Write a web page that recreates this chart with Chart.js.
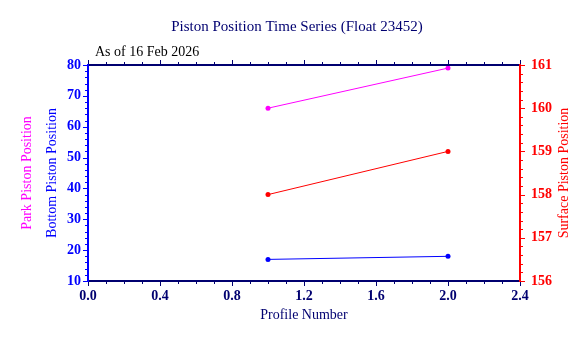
<!DOCTYPE html>
<html>
<head>
<meta charset="utf-8">
<script src="https://cdn.jsdelivr.net/npm/chart.js@4"></script>
<style>
  html, body { margin: 0; padding: 0; background: #fff; }
  #wrap { width: 588px; height: 338px; }
</style>
</head>
<body>
<div id="wrap"><canvas id="myChart" width="588" height="338"></canvas></div>
<script>
const profiles = [1, 2];
const parkPosition = [66, 79];
const bottomPosition = [17, 18];
const surfacePosition = [158, 159];

const NAVY = '#000070';
const FONT = '"Liberation Serif", "Times New Roman", serif';

const toPoints = (ys) => profiles.map((x, i) => ({ x: x, y: ys[i] }));

// frame, major + minor ticks, and free text
const framePlugin = {
    id: 'frame',
    afterDraw(chart) {
        const ctx = chart.ctx;
        const a = chart.chartArea;
        const sx = chart.scales.x, sy = chart.scales.y, sy2 = chart.scales.y2;
        ctx.save();
        ctx.lineWidth = 1;

        // x ticks, bottom and top
        ctx.strokeStyle = NAVY;
        for (let i = 0; i <= 24; i++) {
            const px = Math.round(sx.getPixelForValue(i / 10)) + 0.5;
            const len = i % 4 === 0 ? 4 : 2;
            ctx.beginPath();
            ctx.moveTo(px, a.bottom); ctx.lineTo(px, a.bottom + len + 1);
            ctx.moveTo(px, a.top); ctx.lineTo(px, a.top - len - 1);
            ctx.stroke();
        }
        // left ticks
        ctx.strokeStyle = '#0000ff';
        for (let v = 10; v <= 80; v += 2) {
            const py = Math.round(sy.getPixelForValue(v)) + 0.5;
            const len = v % 10 === 0 ? 4 : 2;
            ctx.beginPath();
            ctx.moveTo(a.left, py); ctx.lineTo(a.left - len - 1, py);
            ctx.stroke();
        }
        // right ticks
        ctx.strokeStyle = '#ff0000';
        for (let i = 0; i <= 25; i++) {
            const py = Math.round(sy2.getPixelForValue(156 + i / 5)) + 0.5;
            const len = i % 5 === 0 ? 4 : 2;
            ctx.beginPath();
            ctx.moveTo(a.right, py); ctx.lineTo(a.right + len + 1, py);
            ctx.stroke();
        }

        // frame lines
        ctx.lineWidth = 2;
        ctx.strokeStyle = NAVY;
        ctx.beginPath();
        ctx.moveTo(a.left, a.top); ctx.lineTo(a.right, a.top);
        ctx.moveTo(a.left, a.bottom); ctx.lineTo(a.right, a.bottom);
        ctx.stroke();
        ctx.strokeStyle = '#0000ff';
        ctx.beginPath(); ctx.moveTo(a.left, a.top - 1); ctx.lineTo(a.left, a.bottom + 1); ctx.stroke();
        ctx.strokeStyle = '#ff0000';
        ctx.beginPath(); ctx.moveTo(a.right, a.top - 1); ctx.lineTo(a.right, a.bottom + 1); ctx.stroke();

        // texts
        const midY = (a.top + a.bottom) / 2;
        ctx.textAlign = 'center';
        ctx.textBaseline = 'middle';
        ctx.fillStyle = NAVY;
        ctx.font = '15px ' + FONT;
        ctx.fillText('Piston Position Time Series (Float 23452)', 297, 27);
        ctx.font = '14px ' + FONT;
        ctx.fillText('Profile Number', (a.left + a.right) / 2, 315);
        ctx.textAlign = 'left';
        ctx.fillStyle = '#000';
        ctx.fillText('As of 16 Feb 2026', 95, 52);

        ctx.textAlign = 'center';
        ctx.fillStyle = '#ff00ff';
        ctx.save(); ctx.translate(27, midY); ctx.rotate(-Math.PI / 2);
        ctx.fillText('Park Piston Position', 0, 0); ctx.restore();
        ctx.fillStyle = '#0000ff';
        ctx.save(); ctx.translate(52, midY); ctx.rotate(-Math.PI / 2);
        ctx.fillText('Bottom Piston Position', 0, 0); ctx.restore();
        ctx.fillStyle = '#ff0000';
        ctx.save(); ctx.translate(564, midY); ctx.rotate(-Math.PI / 2);
        ctx.fillText('Surface Piston Position', 0, 0); ctx.restore();
        ctx.restore();
    }
};

const ctx = document.getElementById('myChart');
const myChart = new Chart(ctx, {
    type: 'line',
    data: {
        datasets: [
            {
                label: 'Park Piston Position',
                data: toPoints(parkPosition),
                borderColor: '#ff00ff',
                backgroundColor: '#ff00ff',
                yAxisID: 'y'
            },
            {
                label: 'Bottom Piston Position',
                data: toPoints(bottomPosition),
                borderColor: '#0000ff',
                backgroundColor: '#0000ff',
                yAxisID: 'y'
            },
            {
                label: 'Surface Piston Position',
                data: toPoints(surfacePosition),
                borderColor: '#ff0000',
                backgroundColor: '#ff0000',
                yAxisID: 'y2'
            }
        ]
    },
    options: {
        responsive: false,
        animation: false,
        events: [],
        layout: { padding: { top: 65, left: 0, right: 0, bottom: 0 } },
        elements: {
            line: { borderWidth: 1, tension: 0 },
            point: { radius: 2.5, borderWidth: 0 }
        },
        plugins: {
            legend: { display: false },
            tooltip: { enabled: false }
        },
        scales: {
            x: {
                type: 'linear',
                min: 0, max: 2.4,
                grid: { display: false, drawTicks: false },
                border: { display: false },
                ticks: {
                    stepSize: 0.4,
                    padding: 7,
                    color: NAVY,
                    font: { family: FONT, size: 14, weight: 'bold' },
                    maxRotation: 0,
                    callback: (v) => v.toFixed(1)
                },
                afterFit: (s) => { s.height = 57; }
            },
            y: {
                position: 'left',
                min: 10, max: 80,
                grid: { display: false, drawTicks: false },
                border: { display: false },
                ticks: {
                    stepSize: 10,
                    padding: 7,
                    color: '#0000ff',
                    font: { family: FONT, size: 14, weight: 'bold' }
                },
                afterFit: (s) => { s.width = 88; }
            },
            y2: {
                position: 'right',
                min: 156, max: 161,
                grid: { display: false, drawTicks: false },
                border: { display: false },
                ticks: {
                    stepSize: 1,
                    padding: 11,
                    color: '#ff0000',
                    font: { family: FONT, size: 14, weight: 'bold' }
                },
                afterFit: (s) => { s.width = 68; }
            }
        }
    },
    plugins: [framePlugin]
});
</script>
</body>
</html>
